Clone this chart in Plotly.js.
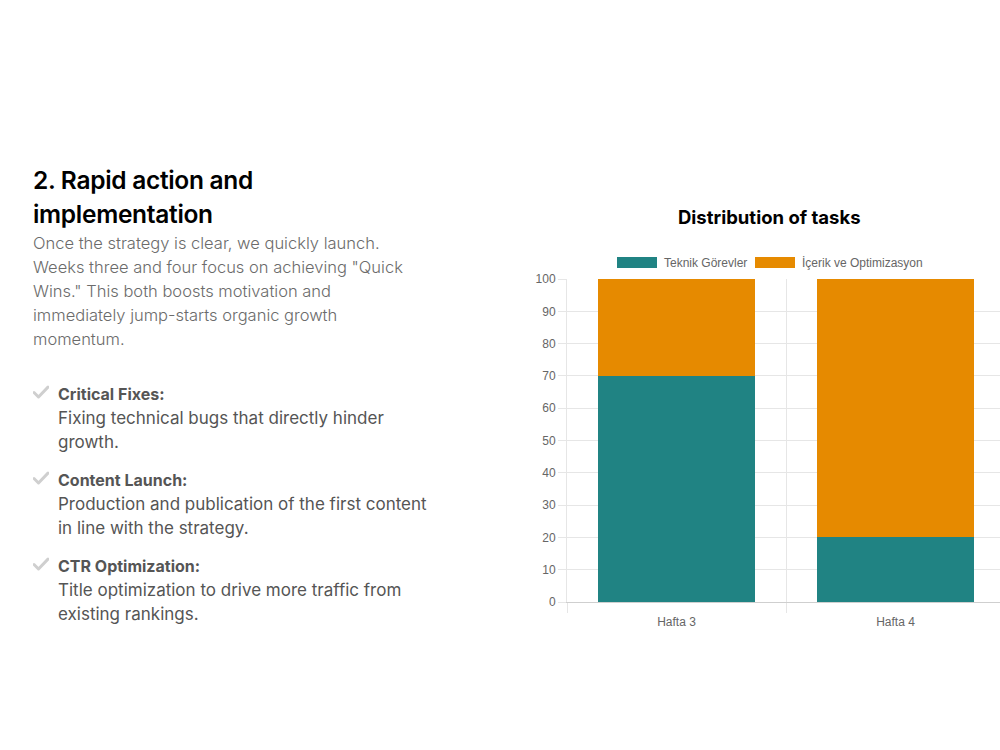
<!DOCTYPE html>
<html>
<head>
<meta charset="utf-8">
<script src="https://cdn.plot.ly/plotly-3.0.1.min.js"></script>
<style>
  html, body { margin: 0; padding: 0; background: #fff; overflow: hidden; width: 1000px; height: 750px; }
  #chart { position: absolute; left: 0; top: 0; width: 1006px; height: 750px; }
  #copy { position: absolute; left: 33px; top: 163px; width: 410px; z-index: 2; font-family: Inter, "Noto Sans", sans-serif; }
  #copy h2 { margin: 0; width: 300px; font-size: 24.5px; line-height: 34px; font-weight: 600; color: #000; letter-spacing: -0.3px; }
  #copy p.lead { margin: 0; font-size: 16.5px; line-height: 24px; font-weight: 300; color: #6b6b6b; width: 385px; }
  #copy ul { list-style: none; margin: 31px 0 0 0; padding: 0; }
  #copy li { position: relative; padding-left: 25px; margin-bottom: 14px; font-size: 17px; line-height: 24px; color: #555; font-weight: 400; width: 380px; }
  #copy li b { display: block; font-size: 16px; font-weight: 700; color: #555; }
  #copy li .chk { position: absolute; left: 0; top: 3px; width: 16px; height: 14px; }
</style>
</head>
<body>
<div id="copy"></div>
<div id="chart"></div>
<script>
// Task split per week (percent of effort)
const weeks = ["Hafta 3", "Hafta 4"];
const seriesNames = ["Teknik Görevler", "İçerik ve Optimizasyon"];
const technicalTasks = [70, 20];
const contentTasks = [30, 80];
const seriesColors = ["#208383", "#e68a00"];
const yTicks = [0, 10, 20, 30, 40, 50, 60, 70, 80, 90, 100];
const chartTitle = "Distribution of tasks";

const heading = "2. Rapid action and implementation";
const lead = "Once the strategy is clear, we quickly launch. Weeks three and four focus on achieving \"Quick Wins.\" This both boosts motivation and immediately jump-starts organic growth momentum.";
const itemTitles = ["Critical Fixes:", "Content Launch:", "CTR Optimization:"];
const itemTexts = [
  "Fixing technical bugs that directly hinder growth.",
  "Production and publication of the first content in line with the strategy.",
  "Title optimization to drive more traffic from existing rankings."
];

// Left column copy
const copyEl = document.getElementById("copy");
const checkSvg = '<svg class="chk" viewBox="0 0 16 14"><path d="M1 7.5 L5.5 12 L15 2" fill="none" stroke="#cfcfcf" stroke-width="3" stroke-linecap="round" stroke-linejoin="round"/></svg>';
let html = "<h2>" + heading + "</h2><p class=\"lead\">" + lead + "</p><ul>";
itemTitles.forEach((t, i) => {
  html += "<li>" + checkSvg + "<b>" + t + "</b>" + itemTexts[i] + "</li>";
});
html += "</ul>";
copyEl.innerHTML = html;

// Plot area in page pixels
const W = 1006, H = 750;
const plotLeft = 567, plotRight = 1005, plotTop = 279, plotBottom = 602;
const px = x => (x - plotLeft) / (plotRight - plotLeft);
const py = y => (plotBottom - y) / (plotBottom - plotTop);

const gridColor = "#e6e6e6";
const tickFont = { family: "Liberation Sans, Arial, sans-serif", size: 12, color: "#666" };

const traces = [technicalTasks, contentTasks].map((vals, i) => ({
  type: "bar",
  x: weeks,
  y: vals,
  name: seriesNames[i],
  marker: { color: seriesColors[i], line: { width: 0 } },
  hoverinfo: "x+y+name"
}));

// Chart.js style legend: wide colour boxes with labels
const legendBoxes = [[617, 657], [755, 795]];
const shapes = legendBoxes.map((b, i) => ({
  type: "rect", xref: "paper", yref: "paper",
  x0: px(b[0]), x1: px(b[1]), y0: py(268), y1: py(257),
  fillcolor: seriesColors[i], line: { width: 0 }
}));
const annotations = legendBoxes.map((b, i) => ({
  xref: "paper", yref: "paper", x: px(b[1] + 5), y: py(262.5),
  xanchor: "left", yanchor: "middle", showarrow: false,
  text: seriesNames[i], font: tickFont
}));
annotations.push({
  xref: "paper", yref: "paper", x: px(769), y: py(217),
  xanchor: "center", yanchor: "middle", showarrow: false,
  text: "<b>" + chartTitle + "</b>",
  font: { family: "Inter, Noto Sans, sans-serif", size: 18.5, color: "#000" }
});

const layout = {
  width: W, height: H,
  margin: { l: plotLeft, r: W - plotRight, t: plotTop, b: H - plotBottom, pad: 0 },
  paper_bgcolor: "rgba(0,0,0,0)", plot_bgcolor: "#fff",
  barmode: "stack", bargap: 0.28,
  showlegend: false,
  font: tickFont,
  xaxis: {
    type: "category", tickson: "boundaries",
    showgrid: true, gridcolor: gridColor, gridwidth: 1,
    ticks: "outside", ticklen: 10, tickcolor: gridColor,
    ticklabelstandoff: 9,
    showline: true, linecolor: "#cfcfcf", linewidth: 1,
    tickfont: tickFont, fixedrange: true, zeroline: false
  },
  yaxis: {
    range: [0, 100], tickvals: yTicks, ticktext: yTicks.map(String),
    showgrid: true, gridcolor: gridColor, gridwidth: 1,
    ticks: "outside", ticklen: 8, tickcolor: gridColor,
    showline: true, linecolor: gridColor, linewidth: 1,
    zeroline: false, tickfont: tickFont, fixedrange: true
  },
  shapes: shapes,
  annotations: annotations
};

Plotly.newPlot("chart", traces, layout, { displayModeBar: false, staticPlot: true });
</script>
</body>
</html>
